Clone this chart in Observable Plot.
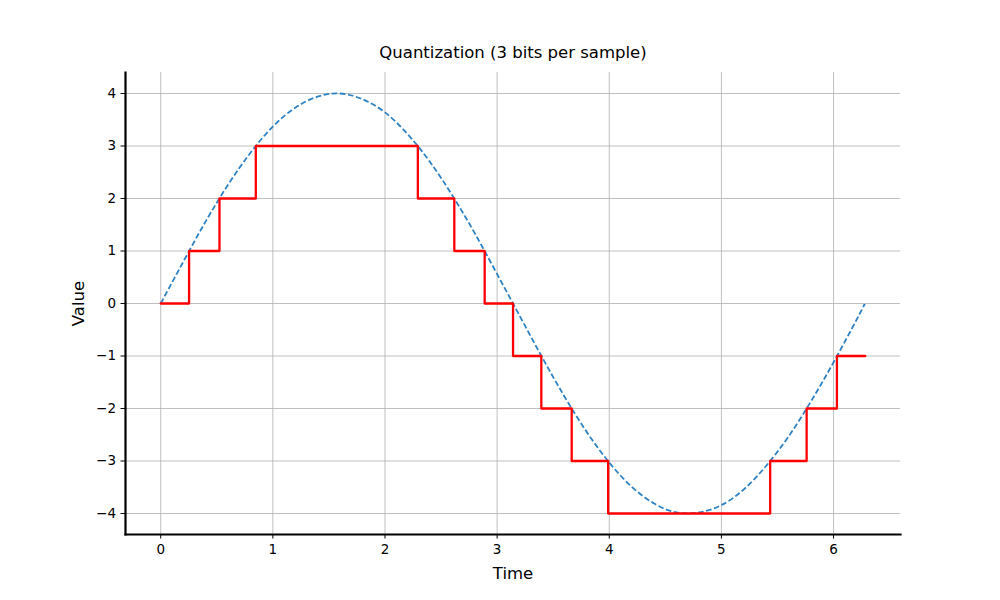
<!DOCTYPE html>
<html>
<head>
<meta charset="utf-8">
<script src="https://cdn.jsdelivr.net/npm/d3@7"></script>
<script src="https://cdn.jsdelivr.net/npm/@observablehq/plot@0.6"></script>
<style>
  html, body { margin: 0; padding: 0; background: white; }
</style>
</head>
<body>
<div id="chart"></div>
<script>
const titleText = "Quantization (3 bits per sample)";
const xLabel = "Time";
const yLabel = "Value";
const xTicks = [0, 1, 2, 3, 4, 5, 6];
const yTicks = [-4, -3, -2, -1, 0, 1, 2, 3, 4];

// original signal (dashed)
const sineT = [0, 0.2, 0.4, 0.6, 0.8, 1.0, 1.2, 1.4, 1.6, 1.8, 2.0, 2.2, 2.4, 2.6, 2.8, 3.0,
               3.2, 3.4, 3.6, 3.8, 4.0, 4.2, 4.4, 4.6, 4.8, 5.0, 5.2, 5.4, 5.6, 5.8, 6.0, 6.2, 6.28];
const sineV = [0, 0.79, 1.56, 2.26, 2.87, 3.37, 3.73, 3.94, 4.00, 3.89, 3.64, 3.23, 2.70, 2.06, 1.34, 0.56,
               -0.23, -1.02, -1.77, -2.45, -3.03, -3.49, -3.81, -3.98, -3.98, -3.84, -3.54, -3.09, -2.53, -1.86, -1.12, -0.33, 0.0];

// quantized signal (red steps): level changes
const stepT = [0, 0.253, 0.524, 0.848, 2.293, 2.618, 2.889, 3.142, 3.394, 3.665, 3.990, 5.435, 5.760, 6.030, 6.283];
const stepV = [0, 1, 2, 3, 2, 1, 0, -1, -2, -3, -4, -3, -2, -1, -1];

const sine = sineT.map((t, i) => ({t, v: sineV[i]}));
const steps = stepT.map((t, i) => ({t, v: stepV[i]}));

const fmt = d => d < 0 ? "\u2212" + Math.abs(d) : String(d);

const chart = Plot.plot({
  width: 1000,
  height: 600,
  marginLeft: 125,
  marginRight: 100,
  marginTop: 72,
  marginBottom: 66,
  x: {domain: [-0.314, 6.597]},
  y: {domain: [-4.4, 4.4]},
  style: {fontFamily: "DejaVu Sans", fontSize: "13.5px", background: "white", color: "black"},
  marks: [
    Plot.gridX(xTicks, {stroke: "#b0b0b0", strokeOpacity: 1, strokeWidth: 0.8}),
    Plot.gridY(yTicks, {stroke: "#b0b0b0", strokeOpacity: 1, strokeWidth: 0.8}),
    Plot.line(sine, {x: "t", y: "v", stroke: "#2f82c2", strokeWidth: 1.8, strokeDasharray: "5.6,2.6", strokeLinecap: "butt", curve: "natural"}),
    Plot.line(steps, {x: "t", y: "v", stroke: "#ff0000", strokeWidth: 2.3, curve: "step-after"}),
    Plot.frame({anchor: "left", stroke: "black", strokeWidth: 2.2}),
    Plot.frame({anchor: "bottom", stroke: "black", strokeWidth: 2.2}),
    Plot.axisX(xTicks, {tickSize: 4.5, tickPadding: 5, label: null, tickFormat: fmt, fontSize: 13.5}),
    Plot.axisY(yTicks, {tickSize: 4.5, tickPadding: 5, label: null, tickFormat: fmt, fontSize: 13.5}),
    Plot.text([titleText], {frameAnchor: "top", dy: -20, lineAnchor: "middle", textAnchor: "middle", fontSize: 16.5, fill: "black"}),
    Plot.text([xLabel], {frameAnchor: "bottom", dy: 39, lineAnchor: "middle", textAnchor: "middle", fontSize: 16.5, fill: "black"}),
    Plot.text([yLabel], {frameAnchor: "left", dx: -47, rotate: -90, lineAnchor: "middle", textAnchor: "middle", fontSize: 16.5, fill: "black"})
  ]
});
document.getElementById("chart").appendChild(chart);
</script>
</body>
</html>
